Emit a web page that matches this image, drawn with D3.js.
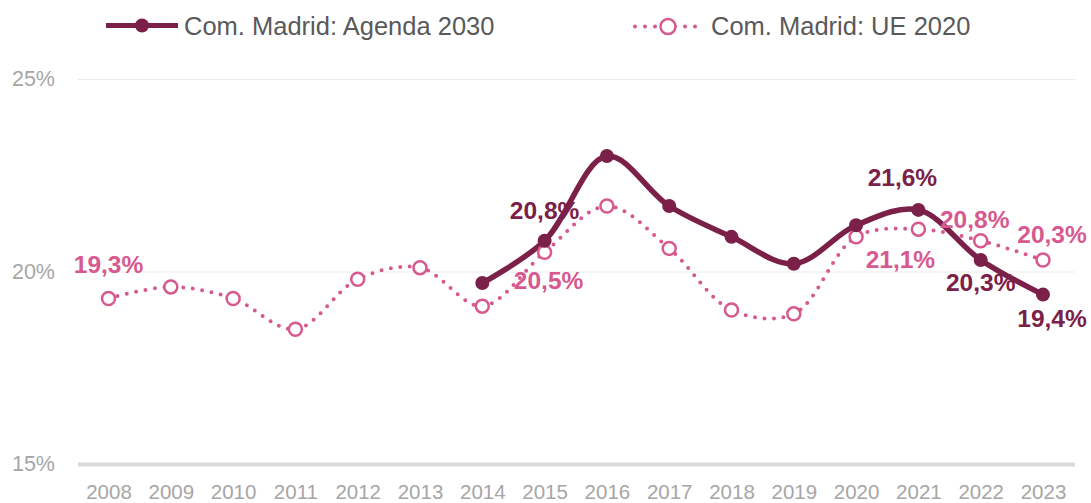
<!DOCTYPE html>
<html>
<head>
<meta charset="utf-8">
<script src="https://cdn.jsdelivr.net/npm/d3@7"></script>
<style>
  body { margin: 0; background: #fff; }
  text { font-family: "Liberation Sans", Arial, sans-serif; }
</style>
</head>
<body>
<div id="plot"></div>
<script>
// data
const years = [2008, 2009, 2010, 2011, 2012, 2013, 2014, 2015, 2016, 2017, 2018, 2019, 2020, 2021, 2022, 2023];
const agenda2030 = [null, null, null, null, null, null, 19.7, 20.8, 23.0, 21.7, 20.9, 20.2, 21.2, 21.6, 20.3, 19.4];
const ue2020 = [19.3, 19.6, 19.3, 18.5, 19.8, 20.1, 19.1, 20.5, 21.7, 20.6, 19.0, 18.9, 20.9, 21.1, 20.8, 20.3];
const yTicks = [15, 20, 25];
const seriesNames = ["Com. Madrid: Agenda 2030", "Com. Madrid: UE 2020"];

// which points get a value label, and where it sits relative to the point
const agendaLabels = [{ year: 2015, dx: 0, dy: -22 }, { year: 2021, dx: -16, dy: -24 }, { year: 2022, dx: 0, dy: 31 }, { year: 2023, dx: 9, dy: 32 }];
const ueLabels = [{ year: 2008, dx: 0, dy: -25 }, { year: 2015, dx: 4, dy: 37 }, { year: 2021, dx: -18, dy: 39 }, { year: 2022, dx: -6, dy: -13 }, { year: 2023, dx: 9, dy: -17 }];

const width = 1091;
const height = 503;
const dark = "#7b2048";
const pink = "#d6598f";
const fmt = v => v.toFixed(1).replace(".", ",") + "%";

const svg = d3.select("div#plot")
  .append("svg")
  .attr("width", width)
  .attr("height", height);

const x = d3.scalePoint()
  .domain(years)
  .range([108.5, 1043]);

const y = d3.scaleLinear()
  .domain([15, 25])
  .range([464, 79]);

// gridlines + y labels
const yAxis = svg.append("g")
  .attr("transform", "translate(78,0)")
  .call(d3.axisLeft(y).tickValues(yTicks).tickSize(-997).tickFormat(d => d + "%"));
yAxis.select(".domain").remove();
yAxis.selectAll("line")
  .attr("stroke", d => d === 15 ? "#d9d9d9" : "#ebebeb")
  .attr("stroke-width", d => d === 15 ? 4 : 1);
yAxis.selectAll("text")
  .attr("x", -23)
  .attr("fill", "#a6a6a6")
  .style("font-size", "21.5px")
  .style("font-family", "'Liberation Sans', Arial, sans-serif");

// x labels
const xAxis = svg.append("g")
  .attr("transform", "translate(0,464)")
  .call(d3.axisBottom(x).tickSize(0).tickFormat(d3.format("d")));
xAxis.select(".domain").remove();
xAxis.selectAll("text")
  .attr("y", 0)
  .attr("dy", null)
  .attr("transform", "translate(0,35)")
  .attr("fill", "#a6a6a6")
  .style("font-size", "20.5px")
  .style("font-family", "'Liberation Sans', Arial, sans-serif");

const curve = d3.curveCatmullRom.alpha(0.5);

// UE 2020 dotted line
const ueData = years.map((yr, i) => ({ year: yr, v: ue2020[i] }));
svg.append("path")
  .datum(ueData)
  .attr("fill", "none")
  .attr("stroke", pink)
  .attr("stroke-width", 4)
  .attr("stroke-linecap", "round")
  .attr("stroke-dasharray", "0 9.5")
  .attr("d", d3.line().x(d => x(d.year)).y(d => y(d.v)).curve(curve));

// Agenda 2030 line
const agData = years.map((yr, i) => ({ year: yr, v: agenda2030[i] })).filter(d => d.v !== null);
svg.append("path")
  .datum(agData)
  .attr("fill", "none")
  .attr("stroke", dark)
  .attr("stroke-width", 5.5)
  .attr("d", d3.line().x(d => x(d.year)).y(d => y(d.v)).curve(curve));

svg.selectAll("circle.ue")
  .data(ueData)
  .enter().append("circle")
  .attr("class", "ue")
  .attr("cx", d => x(d.year))
  .attr("cy", d => y(d.v))
  .attr("r", 6.5)
  .attr("fill", "#fff")
  .attr("stroke", pink)
  .attr("stroke-width", 2.5);

svg.selectAll("circle.ag")
  .data(agData)
  .enter().append("circle")
  .attr("class", "ag")
  .attr("cx", d => x(d.year))
  .attr("cy", d => y(d.v))
  .attr("r", 7)
  .attr("fill", dark);

// value labels
function addLabels(list, values, color) {
  svg.selectAll(null)
    .data(list)
    .enter().append("text")
    .attr("x", d => x(d.year) + d.dx)
    .attr("y", d => y(values[years.indexOf(d.year)]) + d.dy)
    .attr("text-anchor", "middle")
    .attr("fill", color)
    .style("font-size", "24.5px")
    .style("font-weight", "bold")
    .text(d => fmt(values[years.indexOf(d.year)]));
}
addLabels(ueLabels, ue2020, pink);
addLabels(agendaLabels, agenda2030, dark);

// legend
const leg = svg.append("g");
leg.append("line")
  .attr("x1", 106).attr("x2", 178).attr("y1", 25.5).attr("y2", 25.5)
  .attr("stroke", dark).attr("stroke-width", 5);
leg.append("circle")
  .attr("cx", 142).attr("cy", 25.5).attr("r", 7).attr("fill", dark);
leg.append("text")
  .attr("x", 184).attr("y", 34.5)
  .attr("fill", "#595959")
  .style("font-size", "25.5px")
  .text(seriesNames[0]);

leg.append("line")
  .attr("x1", 635).attr("x2", 697).attr("y1", 26.5).attr("y2", 26.5)
  .attr("stroke", pink).attr("stroke-width", 4)
  .attr("stroke-linecap", "round")
  .attr("stroke-dasharray", "0 10");
leg.append("circle")
  .attr("cx", 668).attr("cy", 26.5).attr("r", 7.5)
  .attr("fill", "#fff").attr("stroke", pink).attr("stroke-width", 2.5);
leg.append("text")
  .attr("x", 711).attr("y", 34.5)
  .attr("fill", "#595959")
  .style("font-size", "25.5px")
  .text(seriesNames[1]);
</script>
</body>
</html>
